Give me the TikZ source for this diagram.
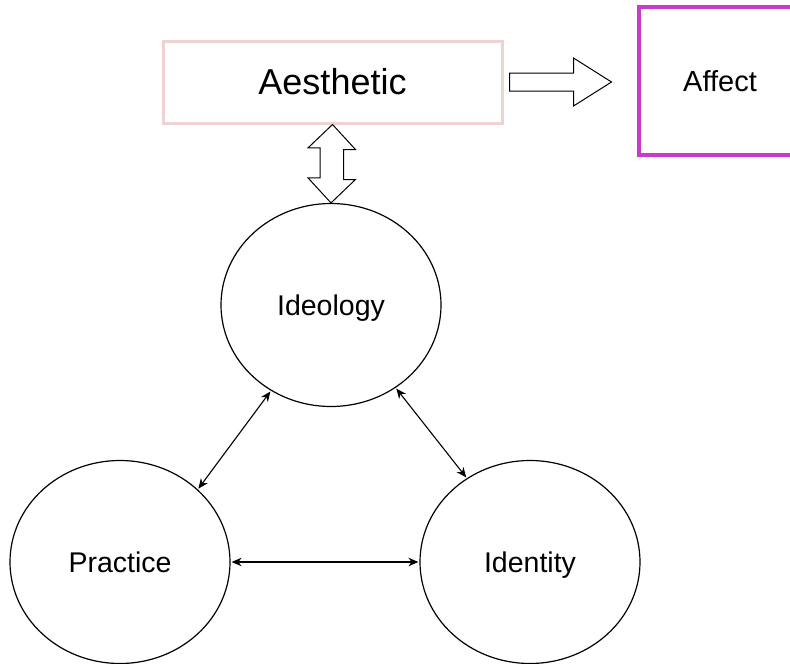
\documentclass[tikz,border=0pt]{standalone}
\usepackage{fontspec}
\setmainfont{Liberation Sans}
\usepackage{tikz}
\usetikzlibrary{arrows.meta}
\usetikzlibrary{shapes.geometric}
\usetikzlibrary{calc}
\definecolor{pinkline}{HTML}{EFD2D2}
\definecolor{magline}{HTML}{C83CC8}
\begin{document}
\begin{tikzpicture}[
		x=1pt, y=-1pt,
		C/.style = {ellipse, draw, line width=1.2pt,% concept ellipses
			minimum width=220pt, minimum height=203pt,
			inner sep=0pt, text height=20.4pt, text depth=0pt,
			font=\fontsize{28.5}{34}\selectfont},
		R/.style = {rectangle, draw, inner sep=0pt},
		L/.style = {{Stealth[length=10pt,width=8.5pt]}-{Stealth[length=10pt,width=8.5pt]},
			line width=1.1pt, shorten <=1pt, shorten >=1pt},
		H/.style = {draw, line width=1pt, line join=miter, fill=white},
		]
		\useasboundingbox (0,0) rectangle (790,664);
		% boxes on top
		\node[R, draw=pinkline, line width=3pt, minimum width=339pt, minimum height=82pt,
			font=\fontsize{36}{42}\selectfont] (aes) at (332.5,82) {Aesthetic};
		\node[R, draw=magline, line width=4pt, minimum width=162pt, minimum height=148pt,
			font=\fontsize{29}{34}\selectfont] (aff) at (720,81) {Affect};
		% the three concepts
		\node[C] (ideo) at (331,305) {Ideology};
		\node[C] (prac) at (120,562) {Practice};
		\node[C] (iden) at (530,562) {Identity};
		% hollow arrows
		\coordinate (h0) at ([xshift=6pt]aes.east);
		\draw[H] (h0) ++(0,-9) -- ++(64,0) -- ++(0,-15) -- ++(38,24)
			-- ++(-38,24) -- ++(0,-15) -- ++(-64,0) -- cycle;
		\draw[H] (aes.south) -- ++(23,25) -- ++(-12,0) -- ++(0,30) -- ++(12,0)
			-- (ideo.north) -- ++(-23,-25) -- ++(12,0) -- ++(0,-30) -- ++(-12,0) -- cycle;
		% links
		\draw[L] (ideo.235) -- (prac.43);
		\draw[L] (ideo.308) -- (iden.127);
		\draw[L] (prac) -- (iden);
	\end{tikzpicture}
\end{document}
